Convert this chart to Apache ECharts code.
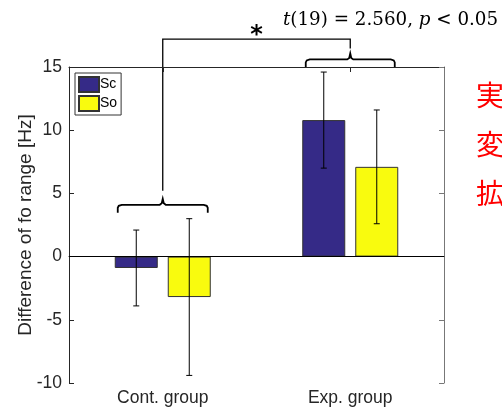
<!DOCTYPE html>
<html>
<head>
<meta charset="utf-8">
<script src="https://cdn.jsdelivr.net/npm/echarts@6/dist/echarts.min.js"></script>
<style>
  html, body { margin: 0; padding: 0; background: #fff; }
  #chart { width: 502px; height: 412px; }
</style>
</head>
<body>
<div id="chart"></div>
<script>
  // data
  var groups = ['Cont. group', 'Exp. group'];
  var seriesNames = ['Sc', 'So'];
  var scMean = [-0.9, 10.8];
  var soMean = [-3.2, 7.1];
  var scErr = [3.0, 3.8];
  var soErr = [6.2, 4.5];
  var yTicks = [-10, -5, 0, 5, 10, 15];
  var statText = ['t', '(19) = 2.560, ', 'p', ' < 0.05'];
  var sideText = ['実', '変', '拡'];
  // bracket levels (in data units)
  var braceLevel = [4.1, 15.6];
  var linkLevel = 17.2;

  var barW = 43, barGapPx = 10;
  var colSc = '#352a87', colSo = '#f9fb0e';
  var axisCol = '#262626';
  var font = 'Liberation Sans, Arial, sans-serif';

  var myChart = echarts.init(document.getElementById('chart'));

  function errSeries(name, means, errs, side) {
    return {
      name: name + ' err',
      type: 'custom',
      silent: true,
      z: 5,
      data: means.map(function (m, i) { return [i, m, errs[i]]; }),
      renderItem: function (params, api) {
        var i = api.value(0), m = api.value(1), e = api.value(2);
        var off = side * (barW + barGapPx) / 2;
        var top = api.coord([i, m + e]);
        var bot = api.coord([i, m - e]);
        var x = top[0] + off;
        var cap = 3;
        var st = { stroke: '#000', lineWidth: 1 };
        return {
          type: 'group',
          children: [
            { type: 'line', shape: { x1: x, y1: top[1], x2: x, y2: bot[1] }, style: st },
            { type: 'line', shape: { x1: x - cap, y1: top[1], x2: x + cap, y2: top[1] }, style: st },
            { type: 'line', shape: { x1: x - cap, y1: bot[1], x2: x + cap, y2: bot[1] }, style: st }
          ]
        };
      }
    };
  }

  var option = {
    animation: false,
    grid: { left: 69, right: 58, top: 67, bottom: 29 },
    legend: {
      data: seriesNames,
      orient: 'vertical',
      left: 75, top: 73,
      padding: [3, 4, 3, 3],
      itemGap: 2,
      itemWidth: 20, itemHeight: 15,
      backgroundColor: '#fff',
      borderColor: '#333', borderWidth: 1, borderRadius: 0,
      icon: 'rect',
      textStyle: { fontFamily: font, fontSize: 14, color: '#000', padding: [0, 0, 0, -4] }
    },
    xAxis: [
      {
        type: 'category', data: groups, position: 'bottom',
        axisLine: { lineStyle: { color: axisCol } },
        axisTick: { alignWithLabel: true, inside: true, length: 5, lineStyle: { color: axisCol } },
        axisLabel: { fontFamily: font, fontSize: 17.5, color: axisCol, margin: 6 }
      },
      {
        type: 'category', data: groups, position: 'top', show: true,
        axisLine: { show: true, onZero: false, lineStyle: { color: axisCol } },
        axisTick: { show: true, alignWithLabel: true, inside: true, length: 5, lineStyle: { color: axisCol } },
        axisLabel: { show: false }
      }
    ],
    yAxis: [
      {
        type: 'value', min: yTicks[0], max: yTicks[yTicks.length - 1], interval: 5,
        name: 'Difference of fo range [Hz]',
        nameLocation: 'middle', nameGap: 34, nameMoveOverlap: false,
        nameTextStyle: { fontFamily: font, fontSize: 19, color: axisCol },
        axisLine: { show: true, lineStyle: { color: axisCol } },
        axisTick: { show: true, inside: true, length: 5, lineStyle: { color: axisCol } },
        axisLabel: { fontFamily: font, fontSize: 17.5, color: axisCol, margin: 7 },
        splitLine: { show: false }
      },
      {
        type: 'value', min: yTicks[0], max: yTicks[yTicks.length - 1], interval: 5,
        position: 'right',
        axisLine: { show: true, lineStyle: { color: '#777' } },
        axisTick: { show: true, inside: true, length: 5, lineStyle: { color: '#777' } },
        axisLabel: { show: false },
        splitLine: { show: false }
      }
    ],
    series: [
      {
        name: seriesNames[0], type: 'bar', data: scMean,
        barWidth: barW, barGap: (barGapPx / barW * 100) + '%',
        itemStyle: { color: colSc, borderColor: '#333', borderWidth: 1 },
        markLine: {
          silent: true, symbol: 'none', label: { show: false },
          lineStyle: { color: '#000', width: 1, type: 'solid' },
          data: [{ yAxis: 0 }]
        }
      },
      {
        name: seriesNames[1], type: 'bar', data: soMean,
        barWidth: barW,
        itemStyle: { color: colSo, borderColor: '#333', borderWidth: 1 }
      },
      errSeries(seriesNames[0], scMean, scErr, -1),
      errSeries(seriesNames[1], soMean, soErr, 1),
      // keeps the top (box) axis alive
      { name: 'box', type: 'line', xAxisIndex: 1, yAxisIndex: 1, data: [], silent: true }
    ]
  };

  myChart.setOption(option);

  // significance brackets, anchored on the axes
  function px(i, v) { return myChart.convertToPixel({ xAxisIndex: 0, yAxisIndex: 0 }, [i, v]); }
  function bracePts(xc, y, half) {
    var x0 = xc - half, x1 = xc + half;
    return [
      [x0, y + 8], [x0, y + 3], [x0 + 1, y + 1], [x0 + 4, y],
      [xc - 3, y], [xc - 1, y - 1.5], [xc, y - 6], [xc + 1, y - 1.5], [xc + 3, y],
      [x1 - 4, y], [x1 - 1, y + 1], [x1, y + 3], [x1, y + 8]
    ];
  }
  var pc = px(0, braceLevel[0]);
  var pe = px(1, braceLevel[1]);
  var yTop = px(0, linkLevel)[1];
  var lineSt = { stroke: '#000', lineWidth: 1.3, fill: null };
  var braceSt = { stroke: '#000', lineWidth: 1.8, fill: null };

  var graphics = [
    { type: 'polyline', shape: { points: bracePts(pc[0], pc[1], 45) }, style: braceSt },
    { type: 'polyline', shape: { points: bracePts(pe[0], pe[1], 44.5) }, style: braceSt },
    { type: 'polyline', shape: { points: [[pc[0], pc[1] - 14], [pc[0], yTop], [pe[0], yTop], [pe[0], pe[1] - 11]] }, style: lineSt },
    {
      type: 'text', x: (pc[0] + pe[0]) / 2, y: yTop - 3,
      style: { text: '*', fontFamily: 'DejaVu Sans', fontWeight: 'bold', fontSize: 24, fill: '#000', align: 'center', verticalAlign: 'middle' }
    },
    {
      type: 'text', x: 283, y: 20,
      style: {
        text: '{i|' + statText[0] + '}' + statText[1] + '{i|' + statText[2] + '}' + statText[3],
        fontFamily: 'DejaVu Serif', fontSize: 18.3, fill: '#000', verticalAlign: 'middle',
        rich: { i: { fontFamily: 'DejaVu Serif', fontStyle: 'italic', fontSize: 18.3, fill: '#000' } }
      }
    }
  ];
  sideText.forEach(function (t, k) {
    graphics.push({
      type: 'text', x: 476, y: 95 + k * 49,
      style: { text: t, fontFamily: 'Noto Sans CJK JP', fontSize: 28, fill: '#ff0000', verticalAlign: 'middle' }
    });
  });
  myChart.setOption({ graphic: graphics });
</script>
</body>
</html>
